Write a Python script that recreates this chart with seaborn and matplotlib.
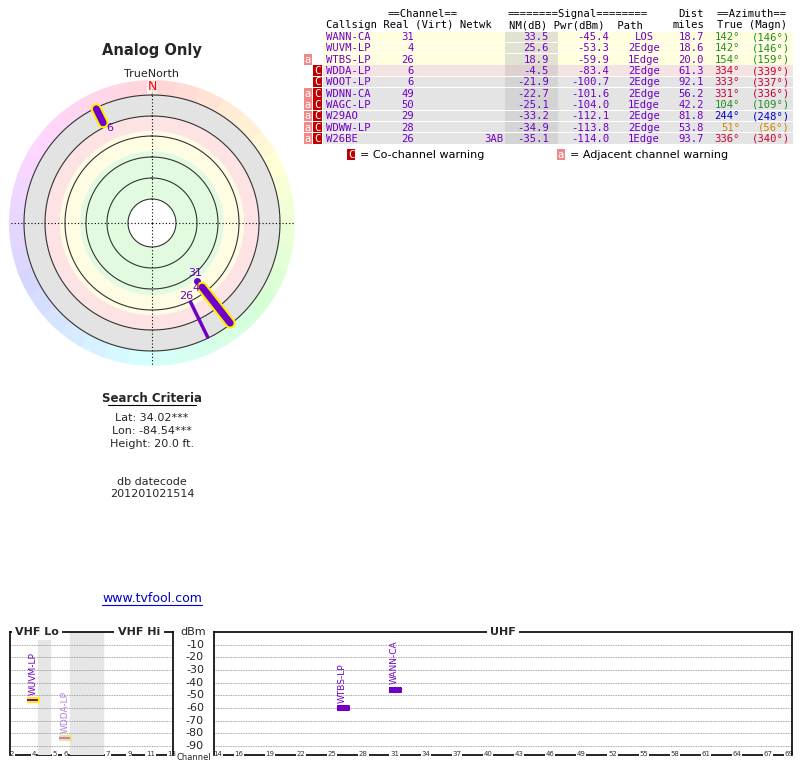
import numpy as np
import pandas as pd
import matplotlib
matplotlib.use("Agg")
import matplotlib.pyplot as plt
import seaborn as sns

sns.set_style("white")
plt.rcParams['font.family'] = ['DejaVu Sans']

# ---- data ----
callsigns = ["WANN-CA", "WUVM-LP", "WTBS-LP", "WDDA-LP", "WOOT-LP", "WDNN-CA", "WAGC-LP", "W29AO", "WDWW-LP", "W26BE"]
real_ch = [31, 4, 26, 6, 6, 49, 50, 29, 28, 26]
netwk = ["", "", "", "", "", "", "", "", "", "3AB"]
nm_db = [33.5, 25.6, 18.9, -4.5, -21.9, -22.7, -25.1, -33.2, -34.9, -35.1]
pwr_dbm = [-45.4, -53.3, -59.9, -83.4, -100.7, -101.6, -104.0, -112.1, -113.8, -114.0]
path = ["LOS", "2Edge", "1Edge", "2Edge", "2Edge", "2Edge", "1Edge", "2Edge", "2Edge", "1Edge"]
dist = [18.7, 18.6, 20.0, 61.3, 92.1, 56.2, 42.2, 81.8, 53.8, 93.7]
az_true = [142, 142, 154, 334, 333, 331, 104, 244, 51, 336]
az_magn = [146, 146, 159, 339, 337, 336, 109, 248, 56, 340]
warn_a = [False, False, True, False, False, True, True, True, True, True]
warn_c = [False, False, False, True, True, True, True, True, True, True]
az_colors = ["#228b22", "#228b22", "#228b22", "#cc0033", "#cc0033", "#cc0033", "#228b22", "#0000cc", "#cc8800", "#cc0033"]
row_bg = ["#ffffe0"] * 3 + ["#f3e3e3"] + ["#e4e4e4"] * 6
row_nm_bg = ["#e2e2d2"] * 3 + ["#dcd0d0"] + ["#d4d4d4"] * 6

shown = [0, 1, 2, 3]
shown_lw = [0, 5, 2.5, 5]
shown_outline = [False, True, False, True]
vhf_gray = [(4, 5), (6, 7)]

W, H = 800, 768
fig = plt.figure(figsize=(8, 7.68), dpi=100)

def fx(x): return x / W
def fy(y): return 1 - y / H

purple = "#7000c8"

# ---- polar plot ----
R_OUT = 143
rings = [24, 45, 66, 87, 107, 128]
axp = fig.add_axes([fx(9), fy(366), 286 / W, 286 / H], projection="polar")
axp.set_theta_zero_location("N")
axp.set_theta_direction(-1)
axp.set_ylim(0, R_OUT)
axp.axis("off")
n = 36
th = np.linspace(0, 2 * np.pi, n, endpoint=False)
for t in th:
    hue = (t / (2 * np.pi)) % 1.0
    c = matplotlib.colors.hsv_to_rgb([hue, 0.16, 1.0])
    axp.bar(t + np.pi / n, R_OUT - 128, width=2 * np.pi / n, bottom=128, color=c, edgecolor=c, lw=0.5)
bands = [(24, 72, "#e2fbe0"), (72, 92, "#fefde4"), (92, 107, "#fde3e3"), (107, 128, "#e3e3e3")]
for r0, r1, c in bands:
    axp.bar(0, r1 - r0, width=2 * np.pi, bottom=r0, color=c, edgecolor="none")
tt = np.linspace(0, 2 * np.pi, 361)
for r in rings:
    axp.plot(tt, [r] * len(tt), color="#333333", lw=0.8)
for a in [0, np.pi / 2, np.pi, 3 * np.pi / 2]:
    axp.plot([a, a], [0, R_OUT], color="black", lw=0.8, ls=(0, (1, 2)))
axp.text(0, 136, "N", color="red", ha="center", va="center", fontsize=9,
         bbox=dict(facecolor="white", edgecolor="none", pad=0.3, alpha=0.6))

def rad(nm):
    return 107 - nm

label_off = [(-3, -7.5), (4, -3), (1, -8), (2, -7)]
for k, i in enumerate(shown):
    t = np.deg2rad(az_true[i])
    r0 = rad(nm_db[i])
    r1 = 127
    if shown_outline[k]:
        axp.plot([t, t], [r0, r1], color="#ffee00", lw=shown_lw[k] + 3, solid_capstyle="round")
    if path[i] == "LOS":
        axp.plot([t], [r0], "o", color=purple, ms=4)
    else:
        axp.plot([t, t], [r0, r1], color=purple, lw=shown_lw[k], solid_capstyle="round")
    da, dr = label_off[k]
    axp.text(t + np.deg2rad(da), r0 + dr, str(real_ch[i]), color=purple,
             fontsize=8, ha="center", va="center", zorder=10)

fig.text(fx(152), fy(51), "Analog Only", ha="center", va="center", fontsize=10.5, fontweight="bold")
fig.text(fx(152), fy(74), "TrueNorth", ha="center", va="center", fontsize=8)

# ---- search criteria ----
fig.text(fx(152), fy(398), "Search Criteria", ha="center", va="center", fontsize=8.5, fontweight="bold")
fig.add_artist(matplotlib.lines.Line2D([fx(108), fx(196)], [fy(405), fy(405)], color="black", lw=0.8))
for y, s in [(418, "Lat: 34.02***"), (431, "Lon: -84.54***"), (444, "Height: 20.0 ft."),
             (482, "db datecode"), (494, "201201021514")]:
    fig.text(fx(152), fy(y), s, ha="center", va="center", fontsize=8)
fig.text(fx(152), fy(598), "www.tvfool.com", ha="center", va="center", fontsize=9, color="#0000cc")
fig.add_artist(matplotlib.lines.Line2D([fx(102), fx(202)], [fy(605), fy(605)], color="#0000cc", lw=0.8))

# ---- table ----
axt = fig.add_axes([0, 0, 1, 1], facecolor="none")
axt.set_xlim(0, W)
axt.set_ylim(H, 0)
axt.axis("off")
mono = dict(family="DejaVu Sans Mono", fontsize=7.6, va="center")
row_y0, row_h = 31.5, 11.3
for r in range(len(callsigns)):
    y0 = row_y0 + r * row_h
    yc = y0 + row_h / 2
    axt.add_patch(plt.Rectangle((323, y0), 470, row_h - 0.8, color=row_bg[r], lw=0))
    axt.add_patch(plt.Rectangle((505, y0), 53, row_h - 0.8, color=row_nm_bg[r], lw=0))
    if warn_a[r]:
        axt.add_patch(plt.Rectangle((304, y0), 8, row_h - 0.8, color="#f08a8a", lw=0))
        axt.text(308, yc, "a", color="white", ha="center", **mono)
    if warn_c[r]:
        axt.add_patch(plt.Rectangle((313, y0), 9, row_h - 0.8, color="#c00000", lw=0))
        axt.text(317.5, yc, "C", color="white", ha="center", **mono)
    axt.text(326, yc, callsigns[r], color=purple, ha="left", **mono)
    axt.text(414, yc, str(real_ch[r]), color=purple, ha="right", **mono)
    axt.text(503, yc, netwk[r], color=purple, ha="right", **mono)
    axt.text(549, yc, f"{nm_db[r]:.1f}", color=purple, ha="right", **mono)
    axt.text(609, yc, f"{pwr_dbm[r]:.1f}", color=purple, ha="right", **mono)
    axt.text(644, yc, path[r], color=purple, ha="center", **mono)
    axt.text(704, yc, f"{dist[r]:.1f}", color=purple, ha="right", **mono)
    axt.text(740, yc, f"{az_true[r]}°", color=az_colors[r], ha="right", **mono)
    axt.text(790, yc, f"({az_magn[r]}°)", color=az_colors[r], ha="right", **mono)
hdr = dict(mono, color="black")
axt.text(326, 25, "Callsign Real (Virt) Netwk", ha="left", **hdr)
axt.text(388, 14, "==Channel==", ha="left", **hdr)
axt.text(508, 14, "========Signal========", ha="left", **hdr)
axt.text(509, 25, "NM(dB) Pwr(dBm)  Path", ha="left", **hdr)
axt.text(704, 14, "Dist", ha="right", **hdr)
axt.text(704, 25, "miles", ha="right", **hdr)
axt.text(717, 14, "==Azimuth==", ha="left", **hdr)
axt.text(717, 25, "True (Magn)", ha="left", **hdr)
axt.add_patch(plt.Rectangle((347, 149), 8, 11, color="#c00000", lw=0))
axt.text(351, 155, "C", color="white", ha="center", **mono)
axt.text(360, 155, "= Co-channel warning", ha="left", color="black", family="DejaVu Sans", fontsize=8, va="center")
axt.add_patch(plt.Rectangle((557, 149), 8, 11, color="#f08a8a", lw=0))
axt.text(561, 155, "a", color="white", ha="center", **mono)
axt.text(570, 155, "= Adjacent channel warning", ha="left", color="black", family="DejaVu Sans", fontsize=8, va="center")

# ---- bottom spectrum ----
def vhf_pos(ch):
    return ch + (1 if ch >= 5 else 0) + (3 if ch >= 7 else 0)

df = pd.DataFrame({"call": callsigns, "ch": real_ch, "pwr": pwr_dbm})
df = df.iloc[shown].copy()
df["outline"] = shown_outline
df["weak"] = [c == "WDDA-LP" for c in df["call"]]

YL = (-97, 0)
axv = fig.add_axes([fx(10), fy(755), 163 / W, 123 / H])
axu = fig.add_axes([fx(214), fy(755), 578 / W, 123 / H])
axv.set_xlim(vhf_pos(2) - 0.2, vhf_pos(13) + 0.1)
axu.set_xlim(13.6, 69.3)
bar_marker = [(-4, -1.4), (4, -1.4), (4, 1.4), (-4, 1.4)]
for ax, sub, pos in [(axv, df[df.ch <= 13].copy(), vhf_pos), (axu, df[df.ch >= 14].copy(), lambda c: c)]:
    ax.set_ylim(*YL)
    for yv in range(-10, -100, -10):
        ax.axhline(yv, color="#888888", lw=0.6, ls=(0, (1, 1)))
    for s in ["top", "left", "right"]:
        ax.spines[s].set_color("black")
        ax.spines[s].set_linewidth(1.2)
    ax.spines["bottom"].set_visible(False)
    ax.set_yticks([])
    sub["x"] = [pos(c) for c in sub["ch"]]
    for _, rw in sub.iterrows():
        col = "#b27ee8" if rw["weak"] else purple
        edge = ("#f5e27a" if rw["weak"] else "#ffee00") if rw["outline"] else col
        sns.scatterplot(data=pd.DataFrame({"x": [rw["x"]], "y": [rw["pwr"]]}), x="x", y="y", ax=ax,
                        marker=bar_marker, s=80, facecolor=col, edgecolor=edge,
                        linewidth=1.5, legend=False, zorder=5)
        ax.text(rw["x"], rw["pwr"] + 4, rw["call"], rotation=90, ha="center", va="bottom",
                color=col, fontsize=6.5, family="DejaVu Sans")
    ax.set_xlabel(""); ax.set_ylabel("")
    ax.plot([0, 1], [0, 0], transform=ax.transAxes, color="black", lw=1.2, clip_on=False, zorder=0)

for a, b in vhf_gray:
    axv.axvspan(vhf_pos(a) + 0.45, vhf_pos(b) - 0.45, color="#e6e6e6", zorder=0)
vt = [2, 4, 5, 6, 7, 9, 11, 13]
axv.set_xticks([vhf_pos(c) for c in vt])
axv.set_xticklabels([str(c) for c in vt])
ut = [14, 16, 19, 22, 25, 28, 31, 34, 37, 40, 43, 46, 49, 52, 55, 58, 61, 64, 67, 69]
axu.set_xticks(ut)
axu.set_xticklabels([str(c) for c in ut])
for ax in (axv, axu):
    ax.tick_params(axis="x", length=0, labelsize=5, pad=-3, colors="#333333")
    for lab in ax.get_xticklabels():
        lab.set_bbox(dict(facecolor="white", edgecolor="none", pad=0.5))

for x, s in [(37, "VHF Lo"), (139, "VHF Hi"), (503, "UHF")]:
    fig.text(fx(x), fy(632), s, ha="center", va="center", fontsize=8, fontweight="bold",
             bbox=dict(facecolor="white", edgecolor="none", pad=2.5))
fig.text(fx(193), fy(632), "dBm", ha="center", va="center", fontsize=8)
for yv in range(-10, -100, -10):
    yy = 755 - (yv - YL[0]) / (YL[1] - YL[0]) * 123
    fig.text(fx(204), fy(yy), str(yv), ha="right", va="center", fontsize=8)
fig.text(fx(194), fy(758), "Channel", ha="center", va="center", fontsize=6)

fig.savefig("out.png", dpi=100)
